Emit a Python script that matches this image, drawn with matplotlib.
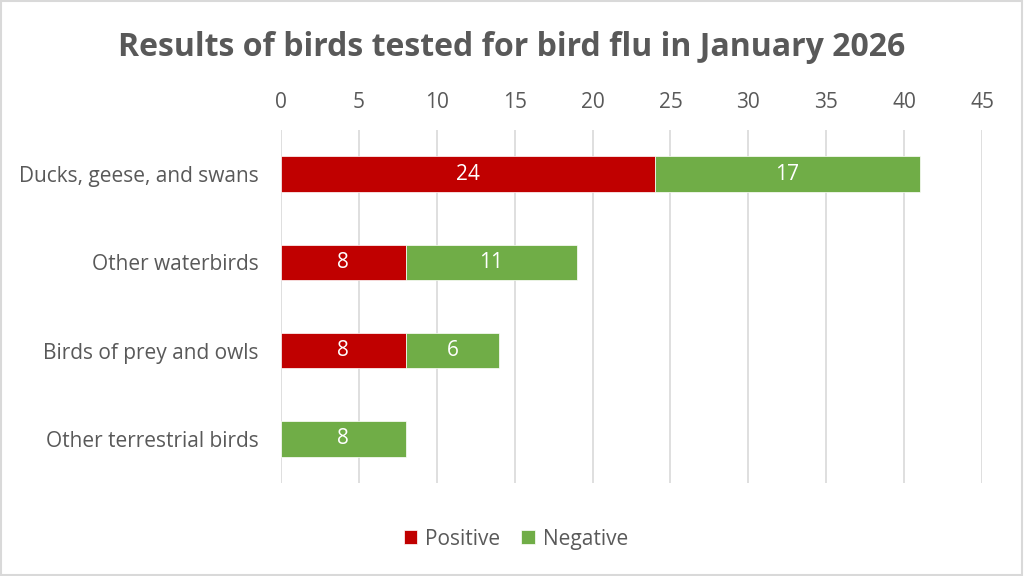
import matplotlib.pyplot as plt
from matplotlib.patches import Rectangle

categories = ["Ducks, geese, and swans", "Other waterbirds",
              "Birds of prey and owls", "Other terrestrial birds"]
positive = [24, 8, 8, 0]
negative = [17, 11, 6, 8]
xticks = [0, 5, 10, 15, 20, 25, 30, 35, 40, 45]

red = "#C00000"
green = "#70AD47"
grey_text = "#595959"

plt.rcParams['font.family'] = ['Open Sans', 'DejaVu Sans']

fig = plt.figure(figsize=(10.24, 5.76), dpi=100)
ax = fig.add_axes([0.2744, 0.1615, 0.6846, 0.6128])

y = list(range(len(categories)))
ax.barh(y, positive, height=0.4, color=red, edgecolor="white", linewidth=0.5, label="Positive")
ax.barh(y, negative, left=positive, height=0.4, color=green, edgecolor="white", linewidth=0.5, label="Negative")

# etiquetas de datos
for i in y:
    if positive[i] > 0:
        ax.text(positive[i] / 2, i, str(positive[i]), ha="center", va="center",
                color="white", fontsize=15)
    if negative[i] > 0:
        ax.text(positive[i] + negative[i] / 2, i, str(negative[i]), ha="center", va="center",
                color="white", fontsize=15)

ax.set_xlim(0, 45)
ax.set_ylim(len(categories) - 0.5, -0.5)
ax.set_yticks(y)
ax.set_yticklabels(categories, fontsize=15, color=grey_text)
ax.set_xticks(xticks)
ax.set_xticklabels([str(t) for t in xticks], fontsize=15, color=grey_text)
ax.xaxis.tick_top()
ax.tick_params(axis="both", length=0)
ax.tick_params(axis="x", pad=12.5)
ax.tick_params(axis="y", pad=16)
ax.grid(axis="x", color="#D9D9D9", linewidth=1.2)
ax.set_axisbelow(True)
for s in ax.spines.values():
    s.set_visible(False)

fig.text(0.5, 0.918, "Results of birds tested for bird flu in January 2026",
         ha="center", va="center", fontsize=23, fontweight="bold", color=grey_text)

fig.legend(loc="center", bbox_to_anchor=(0.504, 0.064), ncol=2, frameon=False,
           fontsize=15, labelcolor=grey_text, handlelength=0.65, handleheight=0.65,
           handletextpad=0.4, columnspacing=1.0)

fig.patches.append(Rectangle((0.001, 0.002), 0.997, 0.996, transform=fig.transFigure,
                             fill=False, edgecolor="#D9D9D9", linewidth=1.5))

fig.savefig("out.png", dpi=100)
